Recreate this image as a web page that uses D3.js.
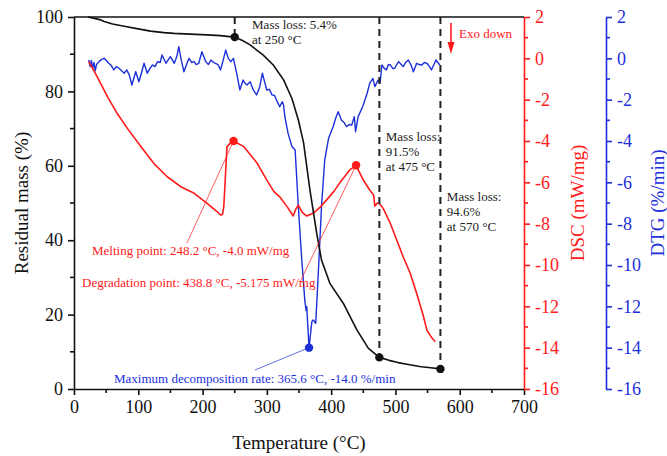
<!DOCTYPE html>
<html><head><meta charset="utf-8">
<script src="https://cdn.jsdelivr.net/npm/d3@7"></script>
<style>body{margin:0;background:#fff}svg{display:block}svg text{font-family:"Liberation Serif","Times New Roman",serif !important}</style>
</head><body><svg id="c" width="667" height="456" font-family="Liberation Serif, serif"></svg>
<script>
// ---- data ----
const xTicks = [0,100,200,300,400,500,600,700];
const massTicks = [0,20,40,60,80,100];
const rightTicks = [2,0,-2,-4,-6,-8,-10,-12,-14,-16];

const tgaT = [22,30,40,47,60,78,100,119,140,156,180,207,228,238,250,262,274,294,310,326,339,349,357,367,377.5,385,398,419,440,458,475,490,504,520,540,555,570];
const tgaV = [100,99.7,99.3,98.8,98.1,97.5,96.8,96.2,95.8,95.6,95.4,95.2,95.0,94.8,94.6,93.7,92.5,89.8,87.1,83.1,78.1,72.3,66.3,53.5,41.9,34.7,28.4,23.0,15.9,10.9,8.5,7.7,7.1,6.6,6.0,5.7,5.4];

const dscT = [23,36,52,67,83,104,124,145,166,187,207,222,228,231,233,238,244,248.2,264,285,300,311,320,332,341,345,349,355,362,372,383,393,404,414,429,438.8,450,460,466,468,472,475,481,492,502,512,523,533,543,549,556,562];
const dscV = [-0.16,-0.89,-1.85,-2.66,-3.39,-4.27,-5.08,-5.73,-6.21,-6.53,-7.02,-7.4,-7.58,-7.55,-7.18,-4.27,-4.08,-4.0,-4.27,-5.08,-5.89,-6.45,-6.70,-7.2,-7.63,-7.3,-7.10,-7.45,-7.63,-7.50,-7.2,-6.85,-6.45,-6.0,-5.40,-5.175,-5.89,-6.37,-6.61,-7.15,-7.0,-7.02,-7.26,-7.98,-8.79,-9.60,-10.40,-11.37,-12.42,-13.15,-13.5,-13.71];

const dtgT = [23,25,27,29,31,33,35,39,43,47,54,58,62,66,70,74,78,82,86,90,96,101,105,109,114,118,122,126,130,134,137,143,147,150,156,160,163,167,171,175,179,183,187,190,194,199,205,209,213,217,220,224,228,232,236,240,244,248,253,258,263,266,269,274,279,284,289,293,297,300,304,308,312,315,320,324,326,328,333,339,344,349,354,359,361,362,365.6,370,372,376,380,385,390,396,403,407,411,416,420,424,428,432,436,438,442,449,456,460,465,468,473,476,479,483,486,489,492,496,499,502,505,509,512,516,520,524,528,533,537,541,545,549,553,556,560,563,566,569];
const dtgV = [-0.08,-0.4,-0.1,-0.5,-0.2,-0.6,-0.3,-0.16,-0.05,0.0,-0.24,-0.35,-0.56,-0.4,-0.48,-0.6,-0.72,-0.56,-0.8,-1.29,-0.65,-1.13,-0.7,-0.24,-0.72,-0.5,-0.32,-0.4,-0.16,-0.2,0.16,-0.24,-0.05,0.08,-0.24,0.1,0.56,-0.1,-0.65,-0.3,0.0,-0.2,-0.16,-0.3,-0.24,0.32,-0.16,-0.3,-0.08,-0.2,-0.24,-0.3,-0.56,-0.1,0.40,0.0,-0.16,0.0,-0.72,-1.53,-1.05,-1.2,-1.29,-1.13,-1.53,-1.77,-1.37,-0.72,-1.2,-1.53,-1.5,-1.77,-1.8,-2.02,-2.34,-2.1,-2.26,-2.82,-3.63,-4.27,-4.44,-7.18,-9.6,-11.7,-12.2,-12.0,-14.0,-12.74,-12.66,-12.82,-10.4,-7.18,-4.92,-3.87,-3.31,-2.9,-2.58,-2.98,-3.1,-3.31,-3.2,-3.23,-2.82,-3.55,-2.82,-2.34,-1.69,-1.21,-0.97,-1.37,-1.05,-1.2,-0.32,-0.5,-0.56,-0.3,-0.32,-0.5,-0.48,-0.3,-0.16,-0.3,-0.40,-0.2,-0.08,-0.3,-0.65,-0.24,-0.3,-0.32,-0.2,-0.24,-0.4,-0.56,-0.3,-0.08,-0.2,-0.32];

const massPoints = [{t:250,v:94.6},{t:475,v:8.5},{t:570,v:5.4}];
const massLabels = [["Mass loss: 5.4%","at 250 °C"],["Mass loss:","91.5%","at 475 °C"],["Mass loss:","94.6%","at 570 °C"]];
const meltPoint = {t:248.2, v:-4.0};
const degPoint = {t:438.8, v:-5.175};
const dtgMin = {t:365.6, v:-14.0};
const meltText = "Melting point: 248.2 °C, -4.0 mW/mg";
const degText = "Degradation point: 438.8 °C, -5.175 mW/mg";
const dtgText = "Maximum decomposition rate: 365.6 °C, -14.0 %/min";

// ---- drawing ----
const RED = "#ff1a1a", BLUE = "#1c2fd9", BLK = "#111";
const FONT = "Liberation Serif, Times New Roman, serif";
const svg = d3.select("#c");
const L = 74, R = 524, T = 17, B = 389;
const x = d3.scaleLinear().domain([0,700]).range([L,R]);
const yM = d3.scaleLinear().domain([0,100]).range([B,T]);
const yD = d3.scaleLinear().domain([-16,2]).range([B,T]);
const yG = d3.scaleLinear().domain([-16,2]).range([B,T]);
const FS = "18px";

function styleAxis(g, color){
  g.attr("font-family", FONT).attr("font-size", null);
  g.selectAll("path,line").attr("stroke", color).attr("stroke-width", 1.6);
  g.selectAll("text").attr("fill", color).attr("font-family", FONT).style("font-size", FS);
}
function minor(g, vals, scale, orient, len, color){
  vals.forEach(v=>{
    const p = scale(v);
    if(orient==="bottom") g.append("line").attr("x1",p).attr("x2",p).attr("y1",0).attr("y2",len);
    if(orient==="left") g.append("line").attr("y1",p).attr("y2",p).attr("x1",0).attr("x2",-len);
    if(orient==="right") g.append("line").attr("y1",p).attr("y2",p).attr("x1",0).attr("x2",len);
  });
  g.selectAll("line").attr("stroke", color).attr("stroke-width",1.6);
}

svg.append("line").attr("x1",L).attr("x2",R).attr("y1",T).attr("y2",T).attr("stroke",BLK).attr("stroke-width",1.6);

const gx = svg.append("g").attr("transform",`translate(0,${B})`)
  .call(d3.axisBottom(x).tickValues(xTicks).tickSize(6).tickPadding(5).tickSizeOuter(0));
styleAxis(gx, BLK);
minor(gx, d3.range(50,700,100), x, "bottom", 4, BLK);

const gy = svg.append("g").attr("transform",`translate(${L},0)`)
  .call(d3.axisLeft(yM).tickValues(massTicks).tickSize(6).tickPadding(5).tickSizeOuter(0));
styleAxis(gy, BLK);
minor(gy, d3.range(10,100,20), yM, "left", 4, BLK);

const gd = svg.append("g").attr("transform",`translate(${R},0)`)
  .call(d3.axisRight(yD).tickValues(rightTicks).tickSize(6).tickPadding(5).tickSizeOuter(0).tickFormat(d=>String(d)));
styleAxis(gd, RED);
minor(gd, d3.range(-15,2,2), yD, "right", 4, RED);

const GX = 606;
const gg = svg.append("g").attr("transform",`translate(${GX},0)`)
  .call(d3.axisRight(yG).tickValues(rightTicks).tickSize(6).tickPadding(5).tickSizeOuter(0).tickFormat(d=>String(d)));
styleAxis(gg, BLUE);
minor(gg, d3.range(-15,2,2), yG, "right", 4, BLUE);

function txt(){ return svg.append("text").attr("font-family", FONT); }

txt().attr("x",(L+R)/2).attr("y",449).attr("text-anchor","middle").style("font-size","19px").attr("fill",BLK).text("Temperature (°C)");
txt().attr("transform",`translate(28,${(T+B)/2}) rotate(-90)`).attr("text-anchor","middle").style("font-size","19px").attr("fill",BLK).text("Residual mass (%)");
txt().attr("transform",`translate(584,${(T+B)/2}) rotate(-90)`).attr("text-anchor","middle").style("font-size","19px").attr("fill",RED).text("DSC (mW/mg)");
txt().attr("transform",`translate(664,${(T+B)/2}) rotate(-90)`).attr("text-anchor","middle").style("font-size","19px").attr("fill",BLUE).text("DTG (%/min)");

const lineFn = (ys)=> d3.line().x(d=>x(d[0])).y(d=>ys(d[1]));
svg.append("path").datum(dtgT.map((t,i)=>[t,dtgV[i]])).attr("d",lineFn(yG)).attr("fill","none").attr("stroke",BLUE).attr("stroke-width",1.4).attr("stroke-linejoin","round");
svg.append("path").datum(dscT.map((t,i)=>[t,dscV[i]])).attr("d",lineFn(yD)).attr("fill","none").attr("stroke",RED).attr("stroke-width",1.6).attr("stroke-linejoin","round");
svg.append("path").datum(tgaT.map((t,i)=>[t,tgaV[i]])).attr("d",lineFn(yM)).attr("fill","none").attr("stroke",BLK).attr("stroke-width",1.6).attr("stroke-linejoin","round");

massPoints.forEach(p=>{
  svg.append("line").attr("x1",x(p.t)).attr("x2",x(p.t)).attr("y1",T).attr("y2",yM(p.v))
    .attr("stroke","#222").attr("stroke-width",2).attr("stroke-dasharray","7,5");
  svg.append("circle").attr("cx",x(p.t)).attr("cy",yM(p.v)).attr("r",4.2).attr("fill",BLK);
});

const massLabelPos = [[277,29],[485,141],[580,201]];
massLabels.forEach((lines,i)=>{
  lines.forEach((s,j)=>{
    txt().attr("x",x(massLabelPos[i][0])).attr("y",massLabelPos[i][1]+j*15)
      .style("font-size","13px").attr("fill","#222").text(s);
  });
});

svg.append("line").attr("x1",187).attr("y1",243).attr("x2",x(meltPoint.t)).attr("y2",yD(meltPoint.v)).attr("stroke",RED).attr("stroke-width",0.7);
svg.append("line").attr("x1",300).attr("y1",282).attr("x2",x(degPoint.t)).attr("y2",yD(degPoint.v)).attr("stroke",RED).attr("stroke-width",0.7);
svg.append("line").attr("x1",255).attr("y1",370).attr("x2",x(dtgMin.t)).attr("y2",yG(dtgMin.v)).attr("stroke",BLUE).attr("stroke-width",0.7);

svg.append("circle").attr("cx",x(meltPoint.t)).attr("cy",yD(meltPoint.v)).attr("r",4.2).attr("fill",RED);
svg.append("circle").attr("cx",x(degPoint.t)).attr("cy",yD(degPoint.v)).attr("r",4.2).attr("fill",RED);
svg.append("circle").attr("cx",x(dtgMin.t)).attr("cy",yG(dtgMin.v)).attr("r",4.2).attr("fill",BLUE);

txt().attr("x",92).attr("y",255).style("font-size","13px").attr("fill",RED).text(meltText);
txt().attr("x",82).attr("y",287).style("font-size","13px").attr("fill",RED).text(degText);
txt().attr("x",114).attr("y",383).style("font-size","13px").attr("fill",BLUE).text(dtgText);

svg.append("line").attr("x1",451).attr("x2",451).attr("y1",23).attr("y2",44).attr("stroke",RED).attr("stroke-width",1.6);
svg.append("path").attr("d","M447.5,42 L454.5,42 L451,54 Z").attr("fill",RED);
txt().attr("x",459).attr("y",38).style("font-size","13px").attr("fill",RED).text("Exo down");
</script></body></html>
